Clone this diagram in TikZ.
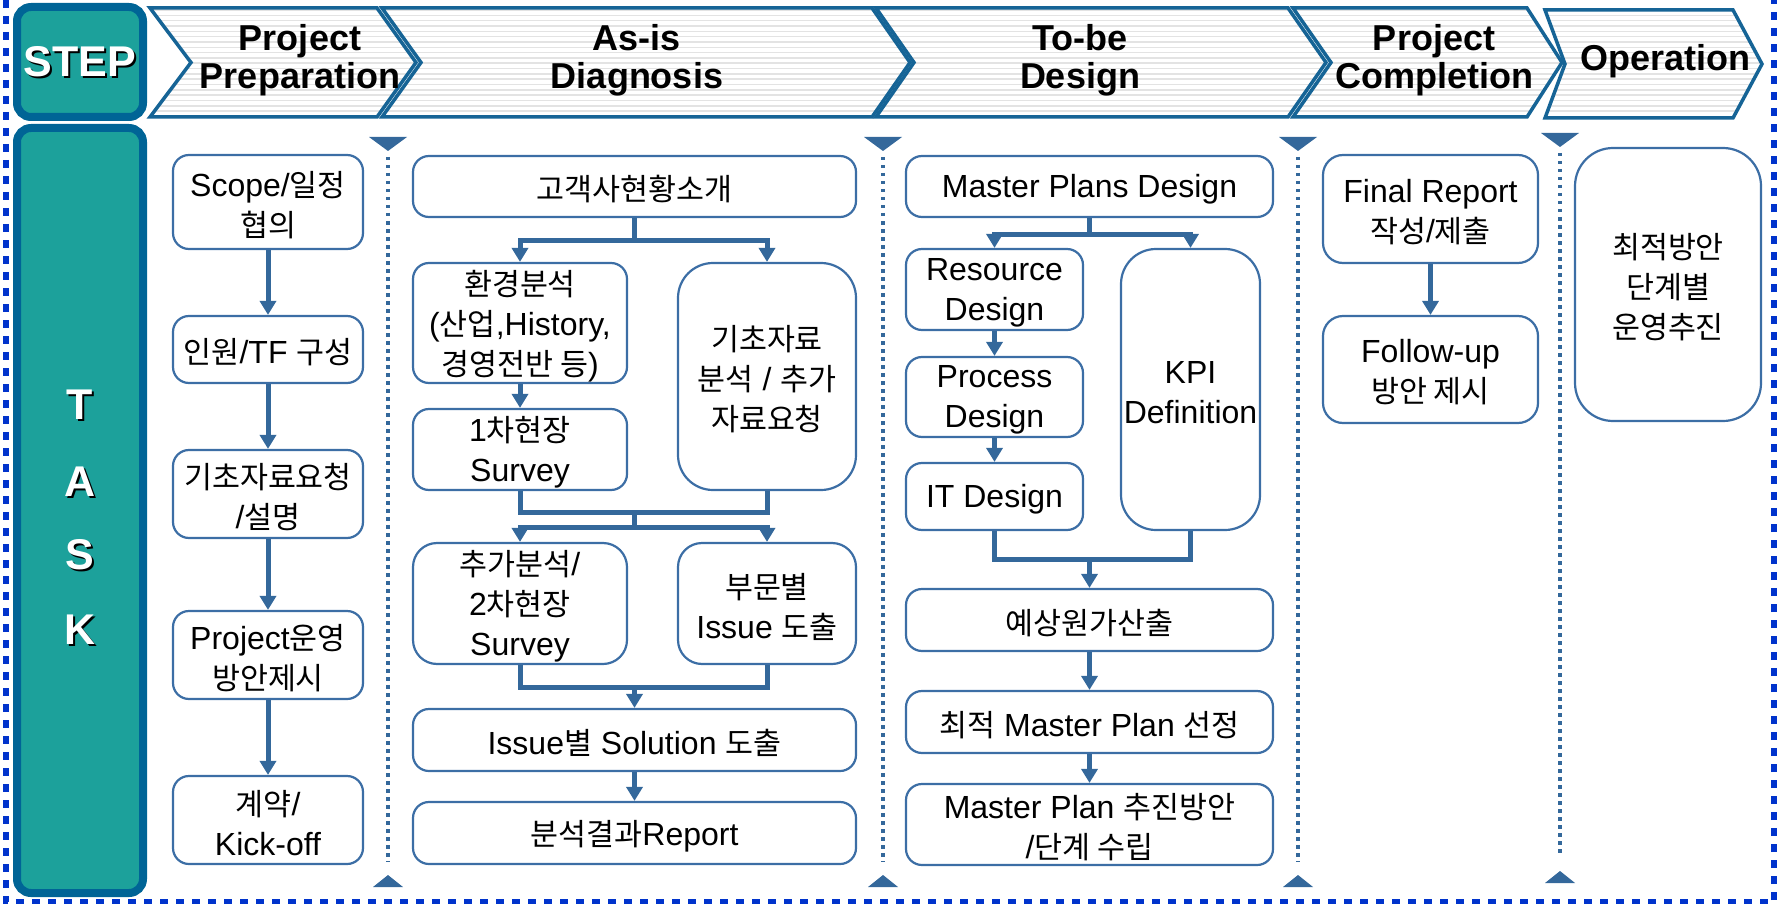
\documentclass[tikz,border=0pt]{standalone}
\usepackage{fontspec}
\setmainfont{Liberation Sans}
\newfontfamily\kr{Noto Sans CJK KR}[Scale=0.95]
\usetikzlibrary{arrows.meta}
\definecolor{tealf}{RGB}{28,161,155}
\definecolor{tealb}{RGB}{0,100,150}
\definecolor{chevc}{RGB}{22,100,150}
\definecolor{boxc}{RGB}{60,110,165}
\definecolor{arrc}{RGB}{52,104,155}
\definecolor{outerc}{RGB}{0,51,204}
\newcommand\kor[1]{{\kr #1}}
\newcommand\bx[7][]{%
  \pgfmathsetmacro\bxw{#5-#3}%
  \pgfmathsetmacro\bxh{#6-#4}%
  \pgfmathsetmacro\bxcx{(#3+#5)/2}%
  \pgfmathsetmacro\bxcy{(#4+#6)/2}%
  \node[box,#1,minimum width=\bxw pt,minimum height=\bxh pt] (#2) at (\bxcx,\bxcy) {};%
  \node[boxtxt] (#2-t) at ([yshift=-3pt]#2.center) {#7};%
}
\newcommand\chev[6]{%
  \pgfmathsetmacro\chm{(#5+#6)/2}%
  \begin{scope}
    \clip (#1,#5) -- (#3,#5) -- (#4,\chm) -- (#3,#6) -- (#1,#6) -- (#2,\chm) -- cycle;
    \fill[white] (#1,#5) rectangle (#4,#6);
    \foreach \yy in {10,15.33,...,120} \draw[stripe] (#1-5,\yy) -- (#4+5,\yy);
  \end{scope}
  \draw[chevd] (#1,#5) -- (#3,#5) -- (#4,\chm) -- (#3,#6) -- (#1,#6) -- (#2,\chm) -- cycle;
}
\begin{document}
\begin{tikzpicture}[x=1pt,y=-1pt,
  box/.style={draw=boxc, line width=2.2pt, fill=white, rounded corners=16pt, inner sep=0pt},
  boxtxt/.style={align=center, inner sep=0pt, font=\fontsize{32}{40}\selectfont},
  mid/.style={rounded corners=24pt},
  big/.style={rounded corners=35pt},
  stripe/.style={draw=black!11, line width=1.6pt},
  chevd/.style={draw=chevc, line width=3.5pt, line join=miter},
  hdr/.style={font=\bfseries\fontsize{36}{38}\selectfont, align=center, inner sep=0pt},
  side/.style={fill=tealf, draw=tealb, line width=8pt, rounded corners=14pt},
  sidetxt/.style={font=\bfseries\fontsize{43}{44}\selectfont, text=white, inner sep=0pt},
  sideshadow/.style={font=\bfseries\fontsize{43}{44}\selectfont, text=black, inner sep=0pt},
  conn/.style={draw=arrc, line width=5pt},
  arr/.style={conn, -{Triangle[width=16pt,length=14pt]}},
  sep/.style={draw=arrc, line width=3.5pt, dash pattern=on 3.5pt off 4.5pt},
  outer/.style={draw=outerc, line width=6.5pt, dash pattern=on 8pt off 8pt}
]
\useasboundingbox (0,0) rectangle (1777,904);

% outer dashed frame
\draw[outer] (6,0) -- (6,902) -- (1774,902) -- (1774,0);

% side boxes
\draw[side] (17,7) rectangle (143,117);
\node[sideshadow] (stepS) at (82,64) {STEP};
\node[sidetxt] (step) at (80,62) {STEP};
\draw[side] (17,128) rectangle (143,893);
\node[sideshadow] (tS) at (82,407) {T};
\node[sidetxt] (t) at (80,405) {T};
\node[sideshadow] (aS) at (82,484) {A};
\node[sidetxt] (a) at (80,482) {A};
\node[sideshadow] (sS) at (82,557) {S};
\node[sidetxt] (s) at (80,555) {S};
\node[sideshadow] (kS) at (82,632) {K};
\node[sidetxt] (k) at (80,630) {K};

% chevrons
\chev{150}{191}{377}{416}{8}{117}
\chev{382}{421}{872}{910}{8}{117}
\chev{876}{914}{1288}{1326}{8}{117}
\chev{1293}{1331}{1527}{1562}{8}{117}
\chev{1545}{1565}{1733}{1762}{10}{118}
\node[hdr] (h1) at (300,60) {Project\\Preparation};
\node[hdr] (h2) at (637,60) {As-is\\Diagnosis};
\node[hdr] (h3) at (1080,60) {To-be\\Design};
\node[hdr] (h4) at (1434,60) {Project\\Completion};
\node[hdr] (h5) at (1665,61) {Operation};

% separators
\foreach \sx/\ta/\ba/\ya/\yb in {388/137/887/157/862, 883/137/887/157/862, 1298/137/887/157/862, 1560/133/883/153/853}{
  \draw[sep] (\sx,\ya) -- (\sx,\yb);
  \fill[arrc] (\sx-19,\ta) -- (\sx+19,\ta) -- (\sx,\ta+14) -- cycle;
  \fill[arrc] (\sx-15,\ba) -- (\sx+15,\ba) -- (\sx,\ba-12) -- cycle;
}

% column 1
\bx{p1}{173}{155}{363}{249}{Scope/\kor{일정}\\\kor{협의}}
\bx{p2}{173}{316}{363}{383}{\kor{인원}/TF \kor{구성}}
\bx{p3}{173}{450}{363}{538}{\kor{기초자료요청}\\/\kor{설명}}
\bx{p4}{173}{611}{363}{699}{Project\kor{운영}\\\kor{방안제시}}
\bx{p5}{173}{776}{363}{864}{\kor{계약}/\\Kick-off}
\draw[arr] (p1) -- (p2);
\draw[arr] (p2) -- (p3);
\draw[arr] (p3) -- (p4);
\draw[arr] (p4) -- (p5);

% column 2
\bx{g}{413}{156}{856}{217}{\kor{고객사현황소개}}
\bx{env}{413}{263}{627}{383}{\kor{환경분석}\\(\kor{산업},History,\\\kor{경영전반 등})}
\bx{s1}{413}{409}{627}{490}{1\kor{차현장}\\Survey}
\bx[big]{kichi}{678}{263}{856}{490}{\kor{기초자료}\\\kor{분석} / \kor{추가}\\\kor{자료요청}}
\bx[mid]{add}{413}{543}{627}{664}{\kor{추가분석}/\\2\kor{차현장}\\Survey}
\bx[mid]{dept}{678}{543}{856}{664}{\kor{부문별}\\Issue \kor{도출}}
\bx{sol}{413}{709}{856}{771}{Issue\kor{별} Solution \kor{도출}}
\bx{rep}{413}{802}{856}{864}{\kor{분석결과}Report}
\draw[arr] (g.south) -- ++(0,22) -| (env.north);
\draw[arr] (g.south) -- ++(0,22) -| (kichi.north);
\draw[arr] (env) -- (s1);
\coordinate (m1) at (634.5,512);
\draw[conn] (s1.south) |- (m1) -| (kichi.south);
\draw[conn] (m1) -- ++(0,15) coordinate (m2);
\draw[arr] (m2) -| (add.north);
\draw[arr] (m2) -| (dept.north);
\coordinate (m3) at (634.5,687);
\draw[conn] (add.south) |- (m3) -| (dept.south);
\draw[arr] (m3) -- (sol.north);
\draw[arr] (sol) -- (rep);

% column 3
\bx{mp}{906}{156}{1273}{217}{Master Plans Design}
\bx{res}{906}{249}{1083}{330}{Resource\\Design}
\bx{proc}{906}{357}{1083}{437}{Process\\Design}
\bx{it}{906}{463}{1083}{530}{IT Design}
\bx[big]{kpi}{1121}{249}{1260}{530}{KPI\\Definition}
\bx{cost}{906}{589}{1273}{651}{\kor{예상원가산출}}
\bx{best}{906}{691}{1273}{753}{\kor{최적} Master Plan \kor{선정}}
\bx{plan}{906}{784}{1273}{865}{Master Plan \kor{추진방안}\\/\kor{단계 수립}}
\draw[arr] (mp.south) -- ++(0,16) -| (res.north);
\draw[arr] (mp.south) -- ++(0,16) -| (kpi.north);
\draw[arr] (res) -- (proc);
\draw[arr] (proc) -- (it);
\coordinate (m4) at (1089.5,559);
\draw[conn] (it.south) |- (m4) -| (kpi.south);
\draw[arr] (m4) -- (cost.north);
\draw[arr] (cost) -- (best);
\draw[arr] (best) -- (plan);

% column 4
\bx[rounded corners=20pt]{fr}{1323}{155}{1538}{263}{Final Report\\\kor{작성}/\kor{제출}}
\bx[rounded corners=20pt]{fu}{1323}{316}{1538}{423}{Follow-up\\\kor{방안 제시}}
\draw[arr] (fr) -- (fu);

% column 5
\bx[rounded corners=38pt]{op}{1575}{148}{1761}{421}{\kor{최적방안}\\\kor{단계별}\\\kor{운영추진}}
\end{tikzpicture}
\end{document}
